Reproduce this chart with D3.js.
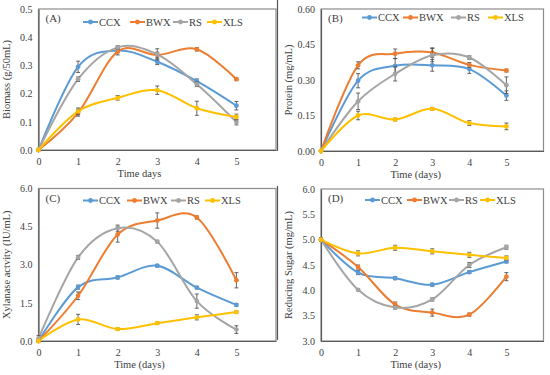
<!DOCTYPE html>
<html><head><meta charset="utf-8">
<script src="https://cdn.jsdelivr.net/npm/d3@7"></script>
<style>
body{margin:0;background:#fff;}
text{font-family:"Liberation Serif","Times New Roman",serif;fill:#404040;}
</style></head>
<body><svg id="c" width="550" height="375"></svg>
<script>
const days = [0,1,2,3,4,5];
const seriesNames = ["CCX","BWX","RS","XLS"];
const seriesColors = ["#5B9BD5","#ED7D31","#A5A5A5","#FFC000"];

// Panel A: Biomass
const biomassMeans = [
  [0,0.295,0.353,0.313,0.244,0.157],
  [0,0.132,0.349,0.337,0.357,0.251],
  [0,0.251,0.364,0.339,0.233,0.099],
  [0,0.137,0.185,0.212,0.148,0.117]
];
const biomassErrors = [
  [0,0.02,0.008,0.01,0.008,0.015],
  [0,0.012,0.012,0.01,0.006,0.005],
  [0,0.008,0.006,0.02,0.008,0.01],
  [0,0.012,0.008,0.015,0.025,0.01]
];
const biomassTicks = [0,0.1,0.2,0.3,0.4,0.5];

// Panel B: Protein
const proteinMeans = [
  [0,0.297,0.360,0.362,0.346,0.234],
  [0,0.362,0.411,0.416,0.364,0.340],
  [0,0.210,0.326,0.405,0.395,0.278],
  [0,0.150,0.133,0.178,0.118,0.104]
];
const proteinErrors = [
  [0,0.03,0.03,0.025,0.018,0.02],
  [0,0.015,0.02,0.02,0.01,0.006],
  [0,0.035,0.03,0.028,0.008,0.035],
  [0,0.018,0.006,0.006,0.01,0.014]
];
const proteinTicks = [0,0.15,0.30,0.45,0.60];

// Panel C: Xylanase activity
const xylanaseMeans = [
  [0,2.12,2.50,2.96,2.10,1.42],
  [0,1.78,4.19,4.74,4.86,2.39],
  [0.1,3.29,4.44,3.91,1.57,0.45],
  [0,0.85,0.47,0.70,0.93,1.14]
];
const xylanaseErrors = [
  [0,0.08,0.06,0.05,0.05,0.05],
  [0,0.15,0.3,0.3,0.06,0.3],
  [0.12,0.08,0.12,0.05,0.28,0.15],
  [0,0.2,0.05,0.05,0.1,0.05]
];
const xylanaseTicks = [0,1.5,3.0,4.5,6.0];

// Panel D: Reducing sugar
const sugarMeans = [
  [5.0,4.35,4.24,4.11,4.36,4.57],
  [5.0,4.46,3.72,3.56,3.52,4.27],
  [5.0,4.01,3.66,3.82,4.50,4.85],
  [5.0,4.73,4.84,4.77,4.70,4.64]
];
const sugarErrors = [
  [0.03,0.04,0.03,0.03,0.03,0.03],
  [0.03,0.04,0.05,0.07,0.03,0.08],
  [0.03,0.02,0.03,0.03,0.05,0.04],
  [0.03,0.05,0.05,0.05,0.05,0.04]
];
const sugarTicks = [3.0,3.5,4.0,4.5,5.0,5.5,6.0];

const svg = d3.select("#c");

function panel(cfg){
  const g = svg.append("g");
  const x = d3.scaleLinear().domain([0,6]).range([cfg.x0,cfg.x1]);
  const y = d3.scaleLinear().domain(cfg.yDomain).range([cfg.y1,cfg.y0]);
  g.append("rect").attr("x",cfg.x0).attr("y",cfg.y0)
    .attr("width",cfg.x1-cfg.x0).attr("height",cfg.y1-cfg.y0)
    .attr("fill","none").attr("stroke","#8c8c8c").attr("stroke-width",1.2);
  const ya = d3.axisLeft(y).tickValues(cfg.ticks).tickFormat(d3.format(cfg.fmt)).tickSize(0).tickPadding(6);
  const yg = g.append("g").attr("transform",`translate(${cfg.x0},0)`).call(ya);
  yg.attr("font-family",null);
  yg.select(".domain").attr("stroke","#595959").attr("stroke-width",1.2);
  yg.selectAll("text").style("font-size","10px").style("font-family","Liberation Serif").attr("fill","#404040");
  const xa = d3.axisBottom(x).tickValues(days).tickFormat(d3.format("d")).tickSize(0).tickPadding(8);
  const xg = g.append("g").attr("transform",`translate(0,${cfg.y1})`).call(xa);
  xg.attr("font-family",null);
  xg.select(".domain").attr("stroke","#595959").attr("stroke-width",1.2);
  xg.selectAll("text").style("font-size","10px").style("font-family","Liberation Serif").attr("fill","#404040");
  g.append("text").attr("x",(cfg.x0+x(5))/2+2).attr("y",cfg.y1+27)
    .attr("text-anchor","middle").style("font-size","10.5px").text(cfg.xTitle);
  g.append("text").attr("transform",`translate(${cfg.x0-29},${(cfg.y0+cfg.y1)/2}) rotate(-90)`)
    .attr("text-anchor","middle").style("font-size","10.5px").text(cfg.yTitle);
  g.append("text").attr("x",cfg.x0+7).attr("y",cfg.y0+13).style("font-size","11px").text(cfg.label);
  const line = d3.line().x((d,i)=>x(days[i])).y(d=>y(d)).curve(d3.curveCardinal.tension(0));
  cfg.means.forEach((vals,s)=>{
    g.append("path").attr("d",line(vals)).attr("fill","none")
      .attr("stroke",seriesColors[s]).attr("stroke-width",2);
  });
  cfg.means.forEach((vals,s)=>{
    vals.forEach((v,i)=>{
      const e = cfg.errs[s][i];
      const cx = x(days[i]);
      if(e>0){
        g.append("line").attr("x1",cx).attr("x2",cx).attr("y1",y(v-e)).attr("y2",y(v+e))
          .attr("stroke","#555").attr("stroke-width",0.9);
        [v-e,v+e].forEach(w=>g.append("line").attr("x1",cx-2).attr("x2",cx+2)
          .attr("y1",y(w)).attr("y2",y(w)).attr("stroke","#555").attr("stroke-width",0.9));
      }
      g.append("circle").attr("cx",cx).attr("cy",y(v)).attr("r",2.4).attr("fill",seriesColors[s]);
    });
  });
  seriesNames.forEach((n,s)=>{
    const lx = cfg.legX[s], ly = cfg.y0+cfg.legDy;
    g.append("line").attr("x1",lx).attr("x2",lx+15).attr("y1",ly).attr("y2",ly)
      .attr("stroke",seriesColors[s]).attr("stroke-width",2);
    g.append("circle").attr("cx",lx+7.5).attr("cy",ly).attr("r",2.4).attr("fill",seriesColors[s]);
    g.append("text").attr("x",lx+16).attr("y",ly+3.6).style("font-size","10.5px").text(n);
  });
}

panel({x0:38.5,x1:276,y0:9,y1:150,yDomain:[0,0.5],ticks:biomassTicks,fmt:".1f",
  means:biomassMeans,errs:biomassErrors,xTitle:"Time days",yTitle:"Biomass (g/50mL)",label:"(A)",
  legX:[83,130,173,207],legDy:13});
panel({x0:321,x1:543.5,y0:9,y1:151,yDomain:[0,0.6],ticks:proteinTicks,fmt:".2f",
  means:proteinMeans,errs:proteinErrors,xTitle:"Time (days)",yTitle:"Protein (mg/mL)",label:"(B)",
  legX:[362,403,451,488],legDy:8.5});
panel({x0:38.5,x1:276,y0:188.5,y1:341,yDomain:[0,6],ticks:xylanaseTicks,fmt:".1f",
  means:xylanaseMeans,errs:xylanaseErrors,xTitle:"Time (days)",yTitle:"Xylanase actvity  (IU/mL)",label:"(C)",
  legX:[83,127,171,205],legDy:12});
panel({x0:321,x1:543.5,y0:189,y1:341,yDomain:[3,6],ticks:sugarTicks,fmt:".1f",
  means:sugarMeans,errs:sugarErrors,xTitle:"Time (days)",yTitle:"Reducing Sugar (mg/mL)",label:"(D)",
  legX:[365,407,449,480],legDy:11});

svg.append("line").attr("x1",277.5).attr("x2",277.5).attr("y1",0).attr("y2",151).attr("stroke","#555").attr("stroke-width",1.2);
svg.append("line").attr("x1",277.5).attr("x2",277.5).attr("y1",186).attr("y2",340).attr("stroke","#555").attr("stroke-width",1.2);
</script></body></html>
